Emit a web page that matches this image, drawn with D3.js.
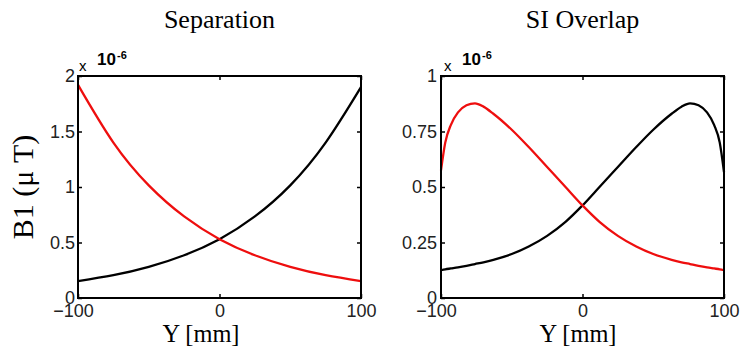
<!DOCTYPE html>
<html><head><meta charset="utf-8">
<script src="https://cdn.jsdelivr.net/npm/d3@7"></script>
<style>body{margin:0;background:#fff}svg{display:block;background:#fff}</style>
</head><body><svg id="c" width="752" height="351"></svg>
<script>
// ---- data ----
const panelTitles = ["Separation", "SI Overlap"];
const xTicks = [-100, 0, 100];
const sepYTicks = [0, 0.5, 1, 1.5, 2];
const ovlYTicks = [0, 0.25, 0.5, 0.75, 1];
const sepYMax = 2;
const ovlYMax = 1;

const sepX = [-100, -75, -50, -25, 0, 25, 50, 75, 100];
const sepBlack = [0.152, 0.205, 0.280, 0.385, 0.530, 0.735, 1.015, 1.400, 1.900];
const sepRed   = [1.920, 1.400, 1.015, 0.735, 0.530, 0.385, 0.280, 0.205, 0.152];

const ovlX = [-100, -97, -93, -88, -82, -76, -70, -63, -50, -38, -25, -12, 0, 12, 25, 38, 50, 63, 70, 76, 82, 88, 93, 97, 100];
const ovlBlack = [0.125, 0.129, 0.133, 0.138, 0.145, 0.153, 0.161, 0.172, 0.198, 0.232, 0.280, 0.343, 0.417, 0.500, 0.590, 0.680, 0.758, 0.830, 0.862, 0.877, 0.868, 0.836, 0.780, 0.700, 0.567];
const ovlRed   = [0.575, 0.700, 0.780, 0.836, 0.868, 0.877, 0.862, 0.830, 0.758, 0.680, 0.590, 0.500, 0.417, 0.343, 0.280, 0.232, 0.198, 0.172, 0.161, 0.153, 0.145, 0.138, 0.133, 0.129, 0.125];

const xLabel = "Y [mm]";
const yLabel = "B1 (μ T)";
const expLabel = ["x", "10", "-6"];

// ---- drawing ----
const svg = d3.select("#c");
const serif = "'Liberation Serif','Times New Roman',serif";
const sans = "'Liberation Sans',Arial,sans-serif";

const panels = [
  {left: 78, right: 361, top: 76, bottom: 298, title: panelTitles[0], yTicks: sepYTicks, yMax: sepYMax,
   xs: sepX, series: [{v: sepBlack, c: "#000"}, {v: sepRed, c: "#ee0e0e"}], pad: 3, ylab: true, expDx: 0, xlabX: 201,
   curve: d3.curveNatural},
  {left: 441, right: 724, top: 76, bottom: 298, title: panelTitles[1], yTicks: ovlYTicks, yMax: ovlYMax,
   xs: ovlX, series: [{v: ovlBlack, c: "#000"}, {v: ovlRed, c: "#ee0e0e"}], pad: 4, ylab: false, expDx: 2, xlabX: 578,
   curve: d3.curveMonotoneX}
];

panels.forEach(p => {
  const x = d3.scaleLinear().domain([-100, 100]).range([p.left, p.right]);
  const y = d3.scaleLinear().domain([0, p.yMax]).range([p.bottom, p.top]);
  const g = svg.append("g");

  // curves
  p.series.forEach(s => {
    const line = d3.line().x((d, i) => x(p.xs[i])).y(d => y(d)).curve(p.curve);
    g.append("path").datum(s.v).attr("d", line).attr("fill", "none")
      .attr("stroke", s.c).attr("stroke-width", 2.3);
  });

  const fmtY = d => String(d);
  // axes
  const ax = [
    {a: d3.axisBottom(x).tickValues(xTicks).tickSizeInner(-4).tickSizeOuter(0).tickPadding(6), t: `translate(0,${p.bottom})`, bottom: true},
    {a: d3.axisTop(x).tickValues(xTicks).tickSizeInner(-4).tickSizeOuter(0).tickFormat(""), t: `translate(0,${p.top})`},
    {a: d3.axisLeft(y).tickValues(p.yTicks).tickSizeInner(-4).tickSizeOuter(0).tickPadding(p.pad).tickFormat(fmtY), t: `translate(${p.left},0)`},
    {a: d3.axisRight(y).tickValues(p.yTicks).tickSizeInner(-4).tickSizeOuter(0).tickFormat(""), t: `translate(${p.right},0)`}
  ];
  ax.forEach(o => {
    const ag = g.append("g").attr("transform", o.t).call(o.a);
    ag.select(".domain").remove();
    ag.selectAll("line").attr("stroke", "#000").attr("stroke-width", 1.5);
    ag.selectAll("text").attr("font-family", sans).attr("font-size", 18).attr("fill", "#222");
    if (o.bottom) {
      ag.selectAll("text").attr("dx", d => d < 0 ? -5 : 0);
    }
  });

  // box
  g.append("rect").attr("x", p.left).attr("y", p.top)
    .attr("width", p.right - p.left).attr("height", p.bottom - p.top)
    .attr("fill", "none").attr("stroke", "#000").attr("stroke-width", 2);

  // title
  g.append("text").attr("x", (p.left + p.right) / 2).attr("y", 28)
    .attr("text-anchor", "middle").attr("font-family", serif).attr("font-size", 26).text(p.title);

  // x label
  g.append("text").attr("x", p.xlabX).attr("y", 342)
    .attr("text-anchor", "middle").attr("font-family", serif).attr("font-size", 26)
    .attr("textLength", 77).attr("lengthAdjust", "spacingAndGlyphs").text(xLabel);

  // exponent
  g.append("text").attr("x", p.left + 1 + p.expDx).attr("y", 70.5)
    .attr("font-family", sans).attr("font-size", 15).text(expLabel[0]);
  g.append("text").attr("x", p.left + 19 + p.expDx).attr("y", 65)
    .attr("font-family", sans).attr("font-size", 17).attr("font-weight", "bold").text(expLabel[1]);
  g.append("text").attr("x", p.left + 39 + p.expDx).attr("y", 58.5)
    .attr("font-family", sans).attr("font-size", 11).attr("font-weight", "bold").text(expLabel[2]);

  if (p.ylab) {
    g.append("text").attr("transform", `translate(33,${(p.top + p.bottom) / 2}) rotate(-90)`)
      .attr("text-anchor", "middle").attr("font-family", serif).attr("font-size", 30).text(yLabel);
  }
});
</script></body></html>
